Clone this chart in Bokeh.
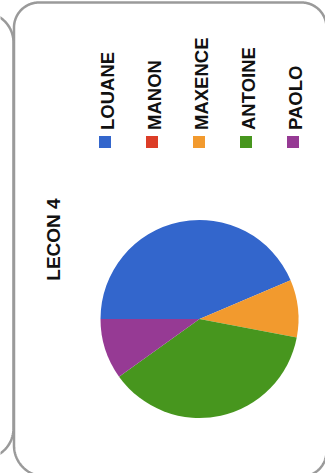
import numpy as np
from bokeh.plotting import figure
from bokeh.models import ColumnDataSource, Range1d
from bokeh.core.properties import value
from bokeh.embed import file_html
from bokeh.resources import INLINE

# ---- data ----
title = "LECON 4"
names = ["LOUANE", "MANON", "MAXENCE", "ANTOINE", "PAOLO"]
values = [43.6, 0.0, 9.4, 37.1, 9.9]
colors = ["#3366CC", "#DC3D27", "#F29A2E", "#47961E", "#963A94"]

W, H = 325, 473


def Y(y_img):
    return H - np.asarray(y_img, dtype=float)


p = figure(width=W, height=H, output_backend="svg", toolbar_location=None,
           x_range=Range1d(0, W), y_range=Range1d(0, H),
           x_axis_type=None, y_axis_type=None, min_border=0,
           outline_line_color=None, background_fill_color="white",
           border_fill_color="white")
p.grid.visible = False


# ---- panel borders (decoration) ----
def arc_pts(cx, cy, r, a0, a1, n=40):
    t = np.radians(np.linspace(a0, a1, n))
    return cx + r * np.cos(t), cy + r * np.sin(t)


def rounded_outline(left, top, right, bottom, r_tl, r_tr, r_br, r_bl):
    xs, ys = [], []
    x, y = arc_pts(left + r_tl, top + r_tl, r_tl, 180, 270); xs += list(x); ys += list(y)
    x, y = arc_pts(right - r_tr, top + r_tr, r_tr, 270, 360); xs += list(x); ys += list(y)
    x, y = arc_pts(right - r_br, bottom - r_br, r_br, 0, 90); xs += list(x); ys += list(y)
    x, y = arc_pts(left + r_bl, bottom - r_bl, r_bl, 90, 180); xs += list(x); ys += list(y)
    xs.append(xs[0]); ys.append(ys[0])
    return np.array(xs), np.array(ys)


bx, by = rounded_outline(13.5, 2, 326, 476, 25, 25, 25, 31)
p.line(bx, Y(by), line_color="#9a9a9a", line_width=2.5)

x1, y1 = arc_pts(-17, 42, 30, 270, 360)
x2, y2 = arc_pts(-17, 428, 30, 0, 90)
p.line(np.concatenate([x1, x2]), Y(np.concatenate([y1, y2])),
       line_color="#9a9a9a", line_width=2.5)

# ---- pie ----
vals = np.array(values, dtype=float)
frac = vals / vals.sum()
cum_end = np.cumsum(frac)
cum_start = cum_end - frac
start = np.pi - 2 * np.pi * cum_end
end = np.pi - 2 * np.pi * cum_start
mask = vals > 0
src = ColumnDataSource(dict(
    name=[n for n, m in zip(names, mask) if m],
    start=list(start[mask]), end=list(end[mask]),
    color=[c for c, m in zip(colors, mask) if m]))
p.wedge(x=199, y=Y(318.5), radius=99, start_angle="start", end_angle="end",
        fill_color="color", line_color=None, source=src)

# ---- title (rotated) ----
p.text(x=[53], y=[Y(239)], text=[title], angle=np.pi / 2,
       text_font=value("Liberation Sans"), text_font_style="bold",
       text_font_size="19px", text_color="#111111",
       text_align="center", text_baseline="middle")

# ---- legend (rotated) ----
lx0, ldx = 104.5, 47
lx = [lx0 + i * ldx for i in range(len(names))]
leg = ColumnDataSource(dict(x=lx, tx=[v + 2 for v in lx], name=names, color=colors))
p.rect(x="x", y=Y(141.5), width=12, height=12, fill_color="color",
       line_color=None, source=leg)
p.text(x="tx", y=Y(129.5), text="name", angle=np.pi / 2,
       text_font=value("Liberation Sans"), text_font_style="bold",
       text_font_size="18.5px", text_color="#111111",
       text_align="left", text_baseline="middle", source=leg)

open("out.html", "w").write(file_html(p, INLINE))
